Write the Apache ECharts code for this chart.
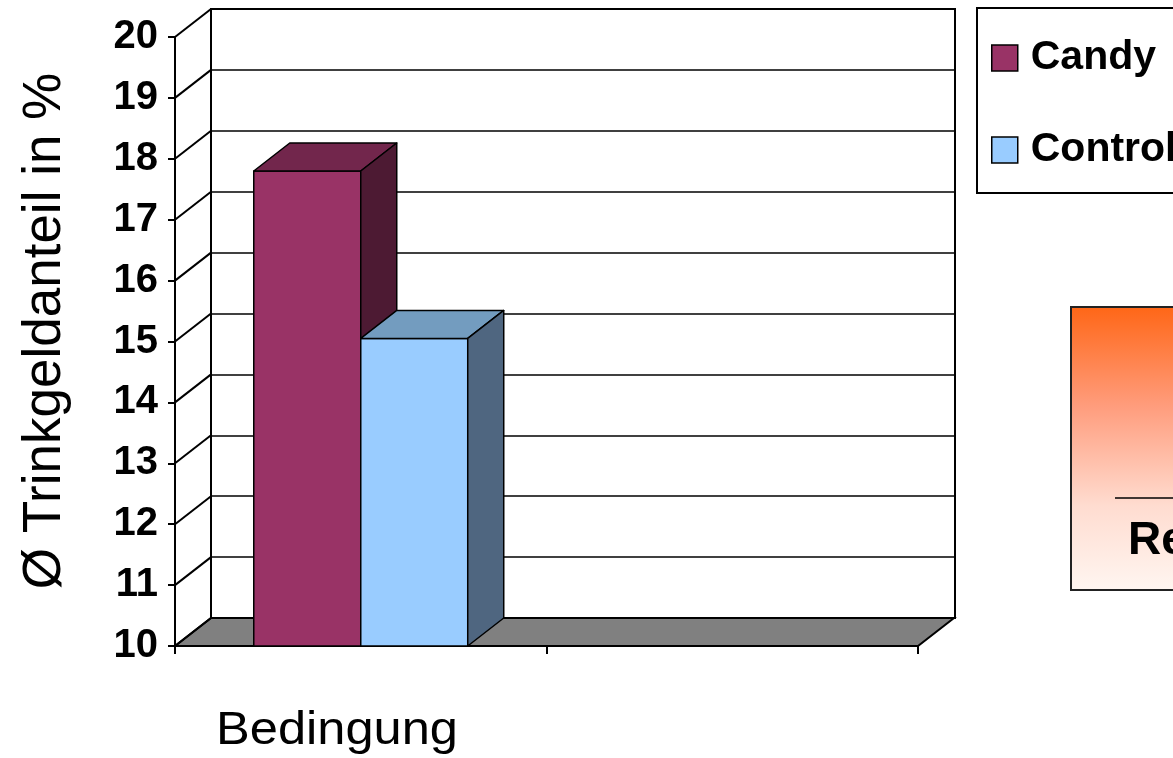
<!DOCTYPE html>
<html lang="de">
<head>
<meta charset="UTF-8">
<title>Trinkgeldanteil</title>
<script src="https://cdn.jsdelivr.net/npm/echarts@6/dist/echarts.min.js"></script>
<style>
    html, body { margin: 0; padding: 0; background: #fff; }
    #chart { width: 1173px; height: 758px; }
</style>
</head>
<body>
<div id="chart"></div>
<script>
    // data
    var categories = ['Bedingung', ''];
    var candyValues = [17.8];
    var controlValues = [15.05];
    var yTicks = [10, 11, 12, 13, 14, 15, 16, 17, 18, 19, 20];
    var yMin = 10, yMax = 20, yStep = 1;

    // 3d depth offset in px
    var DX = 36, DY = -28;
    var FONT = 'Liberation Sans, Arial, sans-serif';

    function barRender(slot, front, topC, side) {
        return function (params, api) {
            var base = api.coord([api.value(0), yMin]);
            var top = api.coord([api.value(0), api.value(1)]);
            var w = api.size([1, 0])[0] * 0.288;
            var x0 = base[0] + slot * w, x1 = x0 + w;
            var ty = top[1], by = base[1];
            var st = {stroke: '#000', lineWidth: 1.5, lineJoin: 'round'};
            return {
                type: 'group',
                children: [
                    {type: 'polygon', shape: {points: [[x0, ty], [x1, ty], [x1, by], [x0, by]]},
                        style: Object.assign({fill: front}, st)},
                    {type: 'polygon', shape: {points: [[x0, ty], [x0 + DX, ty + DY], [x1 + DX, ty + DY], [x1, ty]]},
                        style: Object.assign({fill: topC}, st)},
                    {type: 'polygon', shape: {points: [[x1, ty], [x1 + DX, ty + DY], [x1 + DX, by + DY], [x1, by]]},
                        style: Object.assign({fill: side}, st)}
                ]
            };
        };
    }

    var option = {
        animation: false,
        backgroundColor: '#fff',
        textStyle: {fontFamily: FONT},
        legend: {
            orient: 'vertical',
            left: 977,
            top: 8,
            padding: [28, 40, 21, 14],
            borderColor: '#000',
            borderWidth: 2,
            itemWidth: 26,
            itemHeight: 26,
            itemGap: 48,
            icon: 'rect',
            textStyle: {fontSize: 41, fontWeight: 'bold', color: '#000', lineHeight: 36, padding: [8, 0, 0, 8]},
            data: [
                {name: 'Candy', itemStyle: {color: '#993366', borderColor: '#000', borderWidth: 1.5}},
                {name: 'Control', itemStyle: {color: '#99CCFF', borderColor: '#000', borderWidth: 1.5}}
            ]
        },
        grid: [
            {left: 175, right: 255, top: 37, bottom: 112},
            {left: 211, right: 218, top: 9, bottom: 140, show: true, borderColor: '#000', borderWidth: 2, backgroundColor: '#fff'}
        ],
        xAxis: [
            {
                gridIndex: 0, type: 'category', data: categories,
                axisLine: {lineStyle: {color: '#000', width: 2}},
                axisTick: {show: true, length: 8, interval: 0, lineStyle: {color: '#000', width: 2}},
                axisLabel: {show: false}
            },
            {
                gridIndex: 1, type: 'category', data: categories, show: false
            }
        ],
        yAxis: [
            {
                gridIndex: 0, type: 'value', min: yMin, max: yMax, interval: yStep,
                axisLine: {show: true, lineStyle: {color: '#000', width: 2}},
                axisTick: {show: true, length: 7, lineStyle: {color: '#000', width: 2}},
                axisLabel: {fontSize: 40, fontWeight: 'bold', color: '#000', margin: 17, fontFamily: FONT},
                splitLine: {show: false}
            },
            {
                gridIndex: 1, type: 'value', min: yMin, max: yMax, interval: yStep,
                axisLine: {show: false}, axisTick: {show: false}, axisLabel: {show: false},
                splitLine: {show: true, lineStyle: {color: '#000', width: 1.6}}
            }
        ],
        graphic: [
            {
                type: 'text', x: 45, y: 331, rotation: Math.PI / 2,
                style: {text: 'Ø Trinkgeldanteil in %', font: '53px ' + FONT, fill: '#000', align: 'center', verticalAlign: 'middle'}
            },
            {
                type: 'text', x: 337, y: 731, scaleX: 1.1,
                style: {text: 'Bedingung', font: '46px ' + FONT, fill: '#000', align: 'center', verticalAlign: 'middle'}
            },
            {
                type: 'rect', shape: {x: 1071, y: 307, width: 160, height: 283},
                style: {
                    stroke: '#222', lineWidth: 2,
                    fill: {type: 'linear', x: 0, y: 0, x2: 0, y2: 1, colorStops: [
                        {offset: 0, color: '#FF6616'}, {offset: 0.35, color: '#FF9C7C'},
                        {offset: 0.7, color: '#FFDCD0'}, {offset: 1, color: '#FFF6F1'}]}
                }
            },
            {type: 'line', shape: {x1: 1115, y1: 498, x2: 1190, y2: 498}, style: {stroke: '#000', lineWidth: 1.5}},
            {
                type: 'text', x: 1128, y: 541,
                style: {text: 'Re', font: 'bold 46px ' + FONT, fill: '#000', verticalAlign: 'middle'}
            }
        ],
        series: [
            {
                // floor
                type: 'custom', xAxisIndex: 0, yAxisIndex: 0, silent: true,
                data: [[0, yMin]],
                renderItem: function (params, api) {
                    var cs = params.coordSys;
                    var y = api.coord([0, api.value(1)])[1];
                    var xl = cs.x, xr = cs.x + cs.width;
                    return {type: 'polygon', shape: {points: [[xl, y], [xr, y], [xr + DX, y + DY], [xl + DX, y + DY]]},
                        style: {fill: '#808080', stroke: '#000', lineWidth: 2}};
                }
            },
            {
                // diagonals from the front axis to the back wall
                type: 'custom', xAxisIndex: 0, yAxisIndex: 0, silent: true,
                data: yTicks.map(function (v) { return [0, v]; }),
                renderItem: function (params, api) {
                    var x = params.coordSys.x;
                    var y = api.coord([0, api.value(1)])[1];
                    return {type: 'line', shape: {x1: x, y1: y, x2: x + DX, y2: y + DY}, style: {stroke: '#000', lineWidth: 2}};
                }
            },
            {
                name: 'Candy', type: 'custom', xAxisIndex: 0, yAxisIndex: 0,
                itemStyle: {color: '#993366'},
                data: candyValues.map(function (v, i) { return [i, v]; }),
                renderItem: barRender(-1, '#993366', '#72264C', '#4D1A33')
            },
            {
                name: 'Control', type: 'custom', xAxisIndex: 0, yAxisIndex: 0,
                itemStyle: {color: '#99CCFF'},
                data: controlValues.map(function (v, i) { return [i, v]; }),
                renderItem: barRender(0, '#99CCFF', '#739CBF', '#4F6680')
            }
        ]
    };

    var myChart = echarts.init(document.getElementById('chart'));
    myChart.setOption(option);
</script>
</body>
</html>
